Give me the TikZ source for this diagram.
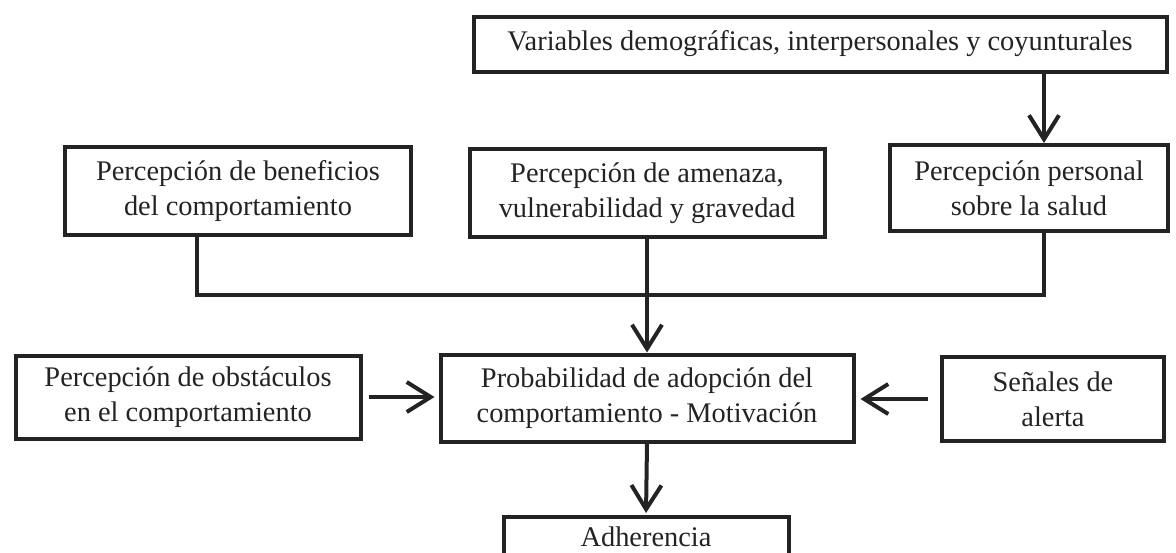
\documentclass[tikz,border=0pt]{standalone}
\usepackage{fontspec}
\setmainfont{Liberation Serif}
\usetikzlibrary{arrows.meta,calc}
\definecolor{ink}{RGB}{35,35,35}
\tikzset{
    block/.style = {draw=ink, rectangle, line width=4pt, text=ink,
        inner sep=0pt, align=center,
        font=\fontsize{28.4}{35}\selectfont},
    arrow/.style = {draw=ink, line width=4pt,
        -{Straight Barb[length=24pt,width=30pt]}},
    link/.style = {draw=ink, line width=4pt}
}
\begin{document}
\begin{tikzpicture}[x=1pt,y=-1pt]
    \useasboundingbox (0,0) rectangle (1176,552);
    % top row
    \node [block, minimum width=693pt, minimum height=55pt] (vars) at (820,44)
        {Variables demográficas, interpersonales y coyunturales};
    \node [block, minimum width=346pt, minimum height=88pt] (benef) at (238,191)
        {Percepción de beneficios\\del comportamiento};
    \node [block, minimum width=355pt, minimum height=88pt] (amen) at (647,193)
        {Percepción de amenaza,\\vulnerabilidad y gravedad};
    \node [block, minimum width=278pt, minimum height=86pt] (pers) at (1029,188)
        {Percepción personal\\sobre la salud};
    % middle row
    \node [block, minimum width=345pt, minimum height=83pt] (obst) at (188,397)
        {Percepción de obstáculos\\en el comportamiento};
    \node [block, minimum width=413pt, minimum height=87pt] (motiv) at (647,398)
        {Probabilidad de adopción del\\comportamiento - Motivación};
    \node [block, minimum width=222pt, minimum height=84pt] (senal) at (1053,399)
        {Señales de\\alerta};
    % bottom
    \node [block, minimum width=285pt, minimum height=40pt] (adher) at (646,537)
        {Adherencia};
    % joining line
    \coordinate (jb) at (197,295);
    \coordinate (jp) at (1044,295);
    \draw [arrow] (vars.south -| jp) -- (pers.north -| jp);
    \draw [link] (benef.south -| jb) -- (jb) -- (jp) -- (pers.south -| jp);
    \draw [arrow] (amen.south) -- (amen.south |- motiv.north);
    \draw [arrow, shorten <=6pt, shorten >=4pt] (obst.east) -- (obst.east -| motiv.west);
    \draw [arrow, shorten <=12pt, shorten >=5pt] (senal.west) -- (senal.west -| motiv.east);
    \draw [arrow, shorten >=2pt] (motiv.south) -- (adher.north);
\end{tikzpicture}
\end{document}
